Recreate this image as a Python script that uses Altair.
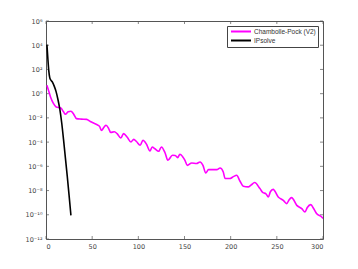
import altair as alt
import pandas as pd

# Chambolle-Pock (V2): iteration and log10 of the value
cp_iter = [1, 3, 5, 8, 11, 16, 19, 21, 24, 27, 30, 33, 38, 44, 48, 52, 55, 58, 60, 63,
           65, 68, 70, 74, 77, 81, 84, 88, 92, 95, 98, 102, 105, 109, 112.6, 115, 118, 122,
           125, 129, 132, 137, 140, 142.6, 145, 148, 150.5, 153, 157.8, 163, 166.8, 170,
           173, 176, 185, 188.5, 192, 194, 199, 203, 206.5, 210, 213.7, 219, 222, 226,
           231.7, 235, 238, 240.8, 243, 246, 251.5, 257, 260.7, 263, 266, 271.6, 277,
           280.5, 283, 286.7, 290, 293, 298.6, 300]
cp_log = [0.7, 0.2, -0.3, -0.8, -1.1, -1.18, -1.5, -1.7, -1.5, -1.45, -1.7, -2.06, -2.1,
          -2.12, -2.3, -2.45, -2.55, -2.7, -3.03, -2.75, -2.61, -2.9, -3.2, -3.15, -3.3,
          -3.66, -3.3, -3.6, -3.99, -3.77, -3.95, -4.26, -3.85, -4.2, -4.73, -4.4, -4.55,
          -4.76, -4.4, -4.9, -5.5, -5.09, -5.1, -5.28, -5.0, -5.2, -5.5, -5.92, -5.72,
          -5.77, -5.64, -5.92, -6.55, -6.27, -6.27, -6.14, -6.47, -7.01, -7.01, -6.85,
          -6.74, -7.21, -7.65, -7.7, -7.55, -7.34, -7.84, -8.17, -8.25, -8.53, -8.1, -7.9,
          -8.53, -8.81, -9.08, -8.8, -8.58, -9.22, -9.49, -9.77, -9.4, -9.16, -9.5, -9.9,
          -10.18, -10.3]

# IPsolve
ip_iter = [1, 2, 3, 4, 5, 7, 9, 11, 13, 15, 17, 19, 21, 23, 25, 27]
ip_log = [4.05, 2.9, 1.9, 1.35, 1.15, 0.95, 0.6, 0.15, -0.5, -1.3, -2.4, -3.8, -5.3,
          -6.8, -8.4, -10.05]

series_names = ["Chambolle-Pock (V2)", "IPsolve"]
series_colors = ["#ff00ff", "#000000"]

x_ticks = [0, 50, 100, 150, 200, 250, 300]
y_exps = [-12, -10, -8, -6, -4, -2, 0, 2, 4, 6]

rows = []
for i, v in zip(cp_iter, cp_log):
    rows.append({"iter": i, "val": 10 ** v, "method": series_names[0], "o": 0})
for i, v in zip(ip_iter, ip_log):
    rows.append({"iter": i, "val": 10 ** v, "method": series_names[1], "o": 1})
df = pd.DataFrame(rows)

xt = pd.DataFrame({"x": x_ticks})
yt = pd.DataFrame({"y": [10.0 ** e for e in y_exps]})

W, H = 277, 218
GRAY = "#555555"

xscale = alt.Scale(domain=[0, 300], nice=False, zero=False)
yscale = alt.Scale(type="log", domain=[1e-12, 1e6], nice=False)

sup = ("'10' + replace(replace(replace(replace(replace(replace(replace(replace("
       "toString(round(log(datum.value)/LN10)),"
       "'-','⁻'),'1','¹'),'2','²'),'0','⁰'),'4','⁴'),'6','⁶'),'8','⁸'),'1','¹')")

lines = alt.Chart(df).mark_line(strokeWidth=1.6, clip=True, interpolate="monotone").encode(
    x=alt.X("iter:Q", scale=xscale,
            axis=alt.Axis(values=x_ticks, title=None, ticks=False, domain=False,
                          grid=False, labelPadding=4)),
    y=alt.Y("val:Q", scale=yscale,
            axis=alt.Axis(values=[10.0 ** e for e in y_exps], title=None, ticks=False,
                          domain=False, grid=False, labelExpr=sup, labelPadding=4)),
    color=alt.Color("method:N",
                    scale=alt.Scale(domain=series_names, range=series_colors),
                    legend=alt.Legend(title=None, orient="top-right", offset=5,
                                      fillColor="white", strokeColor="#444444",
                                      padding=2, symbolType="M-0.6,0H7.4",
                                      symbolStrokeWidth=2, symbolSize=25,
                                      labelFontSize=6.5, rowPadding=0,
                                      labelOffset=18,
                                      labelColor="#333333")),
    order="o:Q",
)

tick_len = 3
xb = alt.Chart(xt).mark_rule(color=GRAY, strokeWidth=0.7).encode(
    x=alt.X("x:Q", scale=xscale), y=alt.value(H), y2=alt.value(H - tick_len))
xtop = alt.Chart(xt).mark_rule(color=GRAY, strokeWidth=0.7).encode(
    x=alt.X("x:Q", scale=xscale), y=alt.value(0), y2=alt.value(tick_len))
yl = alt.Chart(yt).mark_rule(color=GRAY, strokeWidth=0.7).encode(
    y=alt.Y("y:Q", scale=yscale), x=alt.value(0), x2=alt.value(tick_len))
yr = alt.Chart(yt).mark_rule(color=GRAY, strokeWidth=0.7).encode(
    y=alt.Y("y:Q", scale=yscale), x=alt.value(W), x2=alt.value(W - tick_len))

chart = alt.layer(xb, xtop, yl, yr, lines).properties(
    width=W, height=H,
    autosize=alt.AutoSizeParams(type="none"),
    padding={"left": 38, "top": 13, "right": 20, "bottom": 20},
).configure_view(
    stroke=GRAY, strokeWidth=1
).configure_axis(
    labelFont="DejaVu Sans", labelFontSize=6.5, labelColor="#444444"
).configure_legend(
    labelFont="Liberation Sans"
)

chart.save("out.html", embed_options={"renderer": "svg", "actions": False})
